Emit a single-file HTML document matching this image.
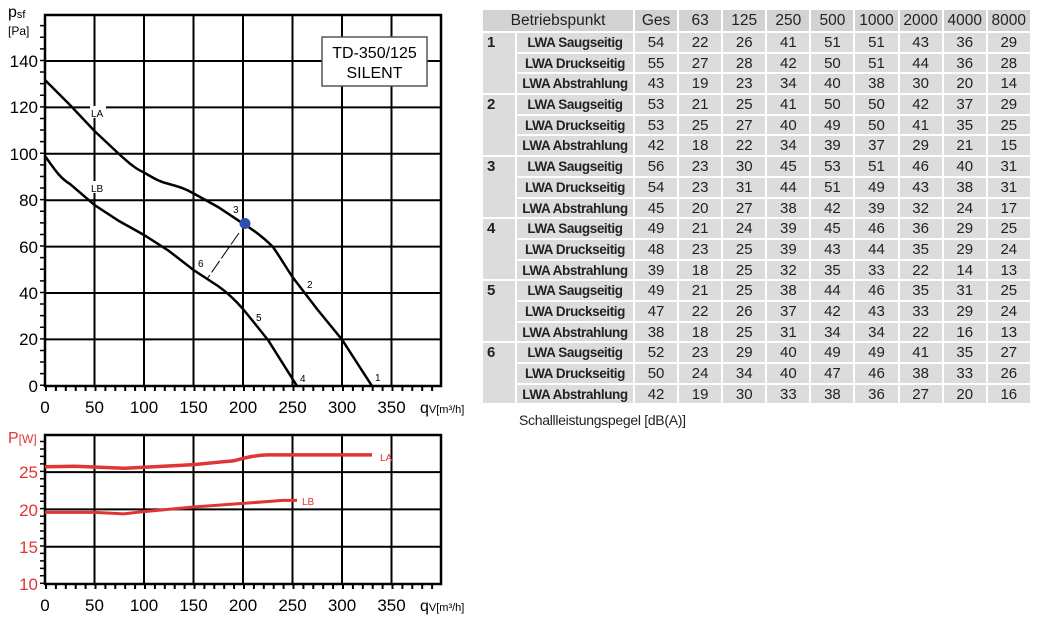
<!DOCTYPE html><html><head><style>
body{margin:0;width:1051px;height:624px;background:#fff;position:relative;overflow:hidden;font-family:"Liberation Sans",sans-serif}
svg{position:absolute;left:0;top:0}
.g{position:absolute;left:483px;top:10px;display:grid;grid-template-columns:32px 116px repeat(9,42.1px);grid-template-rows:21px;grid-auto-rows:18.7px;gap:2px;font-size:15px;color:#222}
.g div{background:#dcdcdc;text-align:center;line-height:19px;white-space:nowrap;overflow:hidden}
.g .h{background:#d2d2d2;font-size:15.5px;line-height:21px}
.g .n{grid-row:span 3;text-align:left;padding-left:4px;font-weight:bold}
.g .l{font-weight:bold;font-size:13.5px;letter-spacing:-0.4px}
.cap{position:absolute;left:519px;top:412px;font-size:14px;letter-spacing:-0.3px;color:#222}
</style></head><body>
<svg width="1051" height="624" font-family="Liberation Sans, sans-serif">
<g stroke="#000" stroke-width="2">
<line x1="94.5" y1="15" x2="94.5" y2="386"/><line x1="144" y1="15" x2="144" y2="386"/><line x1="193.5" y1="15" x2="193.5" y2="386"/><line x1="243" y1="15" x2="243" y2="386"/><line x1="292.5" y1="15" x2="292.5" y2="386"/><line x1="342" y1="15" x2="342" y2="386"/><line x1="391.5" y1="15" x2="391.5" y2="386"/>
<line x1="45" y1="61" x2="441" y2="61"/><line x1="45" y1="107.4" x2="441" y2="107.4"/><line x1="45" y1="153.8" x2="441" y2="153.8"/><line x1="45" y1="200.2" x2="441" y2="200.2"/><line x1="45" y1="246.6" x2="441" y2="246.6"/><line x1="45" y1="293" x2="441" y2="293"/><line x1="45" y1="339.4" x2="441" y2="339.4"/>
<rect x="45" y="15" width="396" height="371" fill="none" stroke-width="2.5"/>
<line x1="42" y1="386" x2="42" y2="15" stroke-width="4" stroke-dasharray="1.5 10.1"/>
<line x1="45" y1="389" x2="441" y2="389" stroke-width="4" stroke-dasharray="2 7.9"/>
</g>
<rect x="322" y="37" width="105" height="49" fill="#fff" stroke="#555" stroke-width="1.5"/>
<text x="374.5" y="58" font-size="16" text-anchor="middle">TD-350/125</text>
<text x="374.5" y="78" font-size="16" text-anchor="middle">SILENT</text>
<path d="M45,80 L70,105 L94.5,131 L119,154 C130,164 136,169 144,172.5 C155,179 160,182 169,184 C180,187 186,189 193.5,193.4 L218,207 L243,223.6 C252,229 262,236 273,247 C282,260 287,269 292.5,277 L317,309 L342,339.6 L372,386" fill="none" stroke="#000" stroke-width="2.5"/>
<path d="M45,156 C55,170 60,178 70,184 L94.5,205 L119,221 L144,235 L169,251 L193.5,270 L218,286 C228,293 236,301 243,309 C252,320 260,330 268,340 L297,386" fill="none" stroke="#000" stroke-width="2.5"/>
<line x1="239" y1="233" x2="207" y2="279" stroke="#000" stroke-width="1" stroke-dasharray="14 3"/>
<circle cx="245" cy="223.5" r="5.5" fill="#2f4fb0"/>
<g font-size="10"><rect x="90" y="106" width="16" height="12" fill="#fff"/><text x="91" y="117">LA</text>
<rect x="90" y="181" width="16" height="12" fill="#fff"/><text x="91" y="192">LB</text>
<text x="233" y="213">3</text><text x="307" y="288">2</text><text x="198" y="267">6</text><text x="256" y="321">5</text><text x="300" y="382">4</text><text x="375" y="381">1</text></g>
<g font-size="17" text-anchor="end"><text x="38" y="67">140</text><text x="38" y="113">120</text><text x="38" y="160">100</text><text x="38" y="206">80</text><text x="38" y="253">60</text><text x="38" y="299">40</text><text x="38" y="345">20</text><text x="38" y="392">0</text></g>
<text x="8" y="17" font-size="16">p<tspan font-size="11" dy="1">sf</tspan></text>
<text x="8" y="35" font-size="12">[Pa]</text>
<g font-size="17" text-anchor="middle"><text x="45" y="413">0</text><text x="94.5" y="413">50</text><text x="144" y="413">100</text><text x="193.5" y="413">150</text><text x="243" y="413">200</text><text x="292.5" y="413">250</text><text x="342" y="413">300</text><text x="391.5" y="413">350</text></g>
<text x="420" y="413" font-size="16">q<tspan font-size="11">V[m³/h]</tspan></text>
<g stroke="#000" stroke-width="2">
<line x1="94.5" y1="435" x2="94.5" y2="584"/><line x1="144" y1="435" x2="144" y2="584"/><line x1="193.5" y1="435" x2="193.5" y2="584"/><line x1="243" y1="435" x2="243" y2="584"/><line x1="292.5" y1="435" x2="292.5" y2="584"/><line x1="342" y1="435" x2="342" y2="584"/><line x1="391.5" y1="435" x2="391.5" y2="584"/>
<line x1="45" y1="472.1" x2="441" y2="472.1"/><line x1="45" y1="509.4" x2="441" y2="509.4"/><line x1="45" y1="546.7" x2="441" y2="546.7"/>
<rect x="45" y="435" width="396" height="149" fill="none" stroke-width="2.5"/>
<line x1="42" y1="584" x2="42" y2="435" stroke-width="4" stroke-dasharray="1.5 5.96"/>
<line x1="45" y1="587" x2="441" y2="587" stroke-width="4" stroke-dasharray="2 7.9"/>
</g>
<path d="M45,466.8 L75,466.3 L124,468.3 C150,467 170,466 193.5,464.6 C210,463 220,462 233,460.9 C245,458 255,455 268,454.9 L372,454.9" fill="none" stroke="#e03535" stroke-width="3.5"/>
<path d="M45,512.4 L94.5,512.4 L124,513.9 C132,513 138,512 144,511.6 L193.5,507 L243,503.4 L282.6,500.4 L297,500.4" fill="none" stroke="#e03535" stroke-width="3"/>
<g font-size="10" fill="#e03535"><text x="380" y="461">LA</text><text x="302" y="505">LB</text></g>
<g font-size="17" text-anchor="end" fill="#e03535"><text x="38" y="478">25</text><text x="38" y="516">20</text><text x="38" y="553">15</text><text x="38" y="590">10</text></g>
<text x="8" y="443" font-size="16" fill="#e03535">P<tspan font-size="12">[W]</tspan></text>
<g font-size="17" text-anchor="middle"><text x="45" y="611">0</text><text x="94.5" y="611">50</text><text x="144" y="611">100</text><text x="193.5" y="611">150</text><text x="243" y="611">200</text><text x="292.5" y="611">250</text><text x="342" y="611">300</text><text x="391.5" y="611">350</text></g>
<text x="420" y="611" font-size="16">q<tspan font-size="11">V[m³/h]</tspan></text>
</svg>
<div class="g">
<div class="h" style="grid-column:span 2">Betriebspunkt</div><div class="h">Ges</div><div class="h">63</div><div class="h">125</div><div class="h">250</div><div class="h">500</div><div class="h">1000</div><div class="h">2000</div><div class="h">4000</div><div class="h">8000</div>
<div class="n">1</div><div class="l">LWA Saugseitig</div><div>54</div><div>22</div><div>26</div><div>41</div><div>51</div><div>51</div><div>43</div><div>36</div><div>29</div>
<div class="l">LWA Druckseitig</div><div>55</div><div>27</div><div>28</div><div>42</div><div>50</div><div>51</div><div>44</div><div>36</div><div>28</div>
<div class="l">LWA Abstrahlung</div><div>43</div><div>19</div><div>23</div><div>34</div><div>40</div><div>38</div><div>30</div><div>20</div><div>14</div>
<div class="n">2</div><div class="l">LWA Saugseitig</div><div>53</div><div>21</div><div>25</div><div>41</div><div>50</div><div>50</div><div>42</div><div>37</div><div>29</div>
<div class="l">LWA Druckseitig</div><div>53</div><div>25</div><div>27</div><div>40</div><div>49</div><div>50</div><div>41</div><div>35</div><div>25</div>
<div class="l">LWA Abstrahlung</div><div>42</div><div>18</div><div>22</div><div>34</div><div>39</div><div>37</div><div>29</div><div>21</div><div>15</div>
<div class="n">3</div><div class="l">LWA Saugseitig</div><div>56</div><div>23</div><div>30</div><div>45</div><div>53</div><div>51</div><div>46</div><div>40</div><div>31</div>
<div class="l">LWA Druckseitig</div><div>54</div><div>23</div><div>31</div><div>44</div><div>51</div><div>49</div><div>43</div><div>38</div><div>31</div>
<div class="l">LWA Abstrahlung</div><div>45</div><div>20</div><div>27</div><div>38</div><div>42</div><div>39</div><div>32</div><div>24</div><div>17</div>
<div class="n">4</div><div class="l">LWA Saugseitig</div><div>49</div><div>21</div><div>24</div><div>39</div><div>45</div><div>46</div><div>36</div><div>29</div><div>25</div>
<div class="l">LWA Druckseitig</div><div>48</div><div>23</div><div>25</div><div>39</div><div>43</div><div>44</div><div>35</div><div>29</div><div>24</div>
<div class="l">LWA Abstrahlung</div><div>39</div><div>18</div><div>25</div><div>32</div><div>35</div><div>33</div><div>22</div><div>14</div><div>13</div>
<div class="n">5</div><div class="l">LWA Saugseitig</div><div>49</div><div>21</div><div>25</div><div>38</div><div>44</div><div>46</div><div>35</div><div>31</div><div>25</div>
<div class="l">LWA Druckseitig</div><div>47</div><div>22</div><div>26</div><div>37</div><div>42</div><div>43</div><div>33</div><div>29</div><div>24</div>
<div class="l">LWA Abstrahlung</div><div>38</div><div>18</div><div>25</div><div>31</div><div>34</div><div>34</div><div>22</div><div>16</div><div>13</div>
<div class="n">6</div><div class="l">LWA Saugseitig</div><div>52</div><div>23</div><div>29</div><div>40</div><div>49</div><div>49</div><div>41</div><div>35</div><div>27</div>
<div class="l">LWA Druckseitig</div><div>50</div><div>24</div><div>34</div><div>40</div><div>47</div><div>46</div><div>38</div><div>33</div><div>26</div>
<div class="l">LWA Abstrahlung</div><div>42</div><div>19</div><div>30</div><div>33</div><div>38</div><div>36</div><div>27</div><div>20</div><div>16</div>
</div>
<div class="cap">Schallleistungspegel [dB(A)]</div>
</body></html>
